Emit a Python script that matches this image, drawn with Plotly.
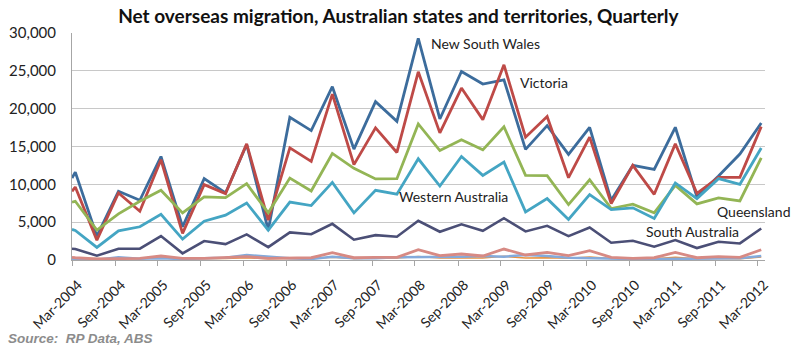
import plotly.graph_objects as go
from datetime import date, timedelta

# Quarter labels (Mar-2004 .. Mar-2012)
quarters = ["Mar-2004","Jun-2004","Sep-2004","Dec-2004","Mar-2005","Jun-2005","Sep-2005","Dec-2005",
            "Mar-2006","Jun-2006","Sep-2006","Dec-2006","Mar-2007","Jun-2007","Sep-2007","Dec-2007",
            "Mar-2008","Jun-2008","Sep-2008","Dec-2008","Mar-2009","Jun-2009","Sep-2009","Dec-2009",
            "Mar-2010","Jun-2010","Sep-2010","Dec-2010","Mar-2011","Jun-2011","Sep-2011","Dec-2011",
            "Mar-2012"]
tick_labels = quarters[::2]

nsw = [11620,3160,9080,7890,13680,4390,10750,8860,15260,3950,18860,17100,22900,14650,20920,18330,
       29300,18640,24910,23250,23820,14620,17760,13950,17540,7890,12500,11970,17540,8330,11100,14000,18100]
vic = [9650,2630,8860,6450,13250,3510,9960,8770,15350,5260,14820,13030,21930,12600,17460,14210,
       24870,16800,22720,18550,25790,16230,18950,10880,16230,7460,12500,8680,15350,8800,10920,10920,17630]
qld = [7760,3950,6100,7760,9210,6230,8330,8250,10090,6230,10830,9120,14080,12120,10720,10750,
       17980,14470,15900,14560,17610,11180,11140,7320,10610,6800,7370,6230,9870,7420,8200,7810,13510]
sa  = [1450,570,1490,1490,3160,880,2500,2100,3380,1700,3650,3400,4780,2680,3290,3070,
       5180,3730,4720,3860,5520,3780,4520,3160,4300,2280,2540,1750,2630,1580,2410,2190,4170]
wa  = [3900,1670,3860,4390,6050,2760,5130,5920,7540,3950,7650,7200,10260,6230,9210,8700,
       13380,9780,13680,11180,12940,6360,8110,5350,8640,6670,6890,5480,10180,8110,10750,10000,14800]
tas = [200,120,150,180,350,150,200,200,300,150,220,200,350,200,220,250,
       450,250,300,260,480,250,300,230,400,200,180,160,350,180,200,180,400]
nt  = [130,40,350,180,220,130,220,300,660,400,220,130,440,220,220,350,
       350,400,440,530,440,660,530,300,220,220,130,130,130,220,220,220,530]
act = [300,130,220,220,530,220,220,350,440,220,300,300,960,300,350,350,
       1360,570,790,530,1450,660,1010,570,1230,350,220,300,1010,300,440,350,1360]
# value of each series where the drawn line begins, at the Mar-2004 tick
line_start = {"New South Wales":10830,"Victoria":9080,"Queensland":7630,"South Australia":1490,
              "Western Australia":4040,"Tasmania":200,"Northern Territory":150,"Australian Capital Territory":350}

MONTHS = {"Mar":3,"Jun":6,"Sep":9,"Dec":12}
def qdate(lbl, day):
    m, y = lbl.split("-")
    return date(int(y), MONTHS[m], day)

xdates = [qdate(quarters[0], 1)] + [qdate(q, 15) for q in quarters]
tickvals = [qdate(t, 1) for t in tick_labels]
label_pos = [d + timedelta(days=26) for d in tickvals]   # Excel-style label placement

series = [
    ("New South Wales", nsw, "#3C6C9C", 2.8),
    ("Victoria", vic, "#BE4A47", 2.8),
    ("Queensland", qld, "#93B555", 2.8),
    ("South Australia", sa, "#4B4F76", 2.6),
    ("Western Australia", wa, "#44A5C3", 2.8),
    ("Tasmania", tas, "#E8913F", 1.5),
    ("Northern Territory", nt, "#84AADB", 2.5),
    ("Australian Capital Territory", act, "#D78A84", 2.8),
]

fig = go.Figure()
for name, vals, color, w in series:
    fig.add_trace(go.Scatter(x=xdates, y=[line_start[name]] + vals, mode="lines", name=name,
                             line=dict(color=color, width=w), showlegend=False, hoverinfo="skip"))
# empty trace so the label axis is rendered
fig.add_trace(go.Scatter(x=[], y=[], xaxis="x2", showlegend=False, hoverinfo="skip"))

labels = [("New South Wales", "2008-05-01", 28650),
          ("Victoria", "2009-05-15", 23500),
          ("Western Australia", "2007-12-15", 8350),
          ("Queensland", "2011-09-01", 6380),
          ("South Australia", "2010-11-01", 3740)]
for txt, xd, yv in labels:
    fig.add_annotation(x=xd, y=yv, text=txt, showarrow=False, xanchor="left", yanchor="middle",
                       font=dict(family="Lato", size=14, color="#222222"))

fig.add_annotation(xref="paper", yref="paper", x=-0.095, y=-0.345, xanchor="left", yanchor="middle",
                   text="<b><i>Source:  RP Data, ABS</i></b>", showarrow=False,
                   font=dict(family="Liberation Sans", size=13.5, color="#8C8C8C"))

xr = ["2004-03-01", "2012-03-31"]
fig.update_layout(
    width=800, height=354,
    margin=dict(l=72, r=35, t=33, b=94),
    paper_bgcolor="white", plot_bgcolor="white",
    title=dict(text="<b>Net overseas migration, Australian states and territories, Quarterly</b>",
               x=0.498, xanchor="center", y=0.955, yanchor="middle",
               font=dict(family="Lato", size=19, color="#111111")),
    font=dict(family="Lato", color="#222222"),
    xaxis=dict(type="date", range=xr, tickvals=tickvals, showticklabels=False,
               ticks="outside", ticklen=5, tickcolor="#A6A6A6",
               showline=True, linecolor="#A6A6A6", linewidth=1, showgrid=False, zeroline=False,
               automargin=False),
    xaxis2=dict(type="date", range=xr, overlaying="x", anchor="y", side="bottom",
                tickvals=label_pos, ticktext=tick_labels, tickangle=-45, ticks="",
                showline=False, showgrid=False, zeroline=False, automargin=False,
                ticklabelstandoff=13,
                tickfont=dict(family="Lato", size=14, color="#222222")),
    yaxis=dict(range=[0, 30000], tickvals=[0,5000,10000,15000,20000,25000,30000],
               tickformat=",d", showgrid=True, gridcolor="#C8C8C8", gridwidth=1,
               showline=True, linecolor="#A6A6A6", linewidth=1, zeroline=False,
               ticks="", ticklabelstandoff=12, automargin=False,
               tickfont=dict(family="Lato", size=15, color="#222222")),
)

fig.write_html("out.html")
